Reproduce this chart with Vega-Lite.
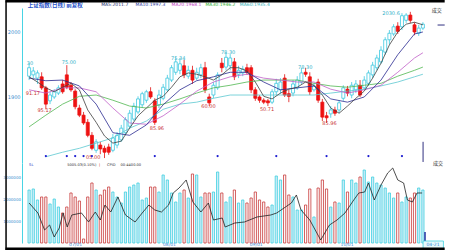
{
"$schema": "https://vega.github.io/schema/vega-lite/v6.json",
"width": 428, "height": 250, "autosize": "none",
"padding": {"left": 22, "top": 0, "right": 0, "bottom": 0},
"background": "white",
"config": {"view": {"stroke": null}, "text": {"font": "DejaVu Sans"}},
"datasets": {
"k": [
{"i":0,"d":"up","o":1932,"c":1945,"h":1952,"l":1926,"v":2409000},
{"i":1,"d":"up","o":1934,"c":1940,"h":1946,"l":1929,"v":2455000},
{"i":2,"d":"up","o":1929,"c":1937,"h":1941,"l":1920,"v":1955000},
{"i":3,"d":"dn","o":1931,"c":1914,"h":1938,"l":1911,"v":2091000},
{"i":4,"d":"dn","o":1914,"c":1889,"h":1917,"l":1881,"v":2091000},
{"i":5,"d":"up","o":1894,"c":1903,"h":1908,"l":1889,"v":1773000},
{"i":6,"d":"up","o":1900,"c":1908,"h":1912,"l":1897,"v":2000000},
{"i":7,"d":"up","o":1906,"c":1914,"h":1918,"l":1903,"v":1636000},
{"i":8,"d":"dn","o":1920,"c":1908,"h":1926,"l":1905,"v":1364000},
{"i":9,"d":"dn","o":1934,"c":1915,"h":1949,"l":1912,"v":1636000},
{"i":10,"d":"dn","o":1918,"c":1911,"h":1923,"l":1908,"v":2273000},
{"i":11,"d":"dn","o":1909,"c":1885,"h":1912,"l":1881,"v":2091000},
{"i":12,"d":"dn","o":1883,"c":1872,"h":1888,"l":1869,"v":1909000},
{"i":13,"d":"dn","o":1872,"c":1860,"h":1877,"l":1857,"v":182000},
{"i":14,"d":"dn","o":1861,"c":1841,"h":1866,"l":1838,"v":2091000},
{"i":15,"d":"dn","o":1841,"c":1821,"h":1846,"l":1818,"v":2727000},
{"i":16,"d":"up","o":1818,"c":1831,"h":1835,"l":1814,"v":2409000},
{"i":17,"d":"dn","o":1826,"c":1820,"h":1831,"l":1812,"v":2182000},
{"i":18,"d":"dn","o":1821,"c":1815,"h":1825,"l":1806,"v":2409000},
{"i":19,"d":"dn","o":1823,"c":1815,"h":1828,"l":1811,"v":2545000},
{"i":20,"d":"up","o":1818,"c":1837,"h":1843,"l":1815,"v":2318000},
{"i":21,"d":"up","o":1826,"c":1841,"h":1846,"l":1821,"v":2091000},
{"i":22,"d":"up","o":1834,"c":1852,"h":1857,"l":1831,"v":1818000},
{"i":23,"d":"up","o":1845,"c":1865,"h":1869,"l":1841,"v":2318000},
{"i":24,"d":"up","o":1855,"c":1875,"h":1880,"l":1852,"v":2545000},
{"i":25,"d":"up","o":1866,"c":1886,"h":1891,"l":1863,"v":2636000},
{"i":26,"d":"up","o":1877,"c":1897,"h":1901,"l":1874,"v":2727000},
{"i":27,"d":"up","o":1888,"c":1905,"h":1908,"l":1883,"v":1955000},
{"i":28,"d":"up","o":1895,"c":1908,"h":1911,"l":1891,"v":2045000},
{"i":29,"d":"dn","o":1908,"c":1900,"h":1915,"l":1897,"v":2545000},
{"i":30,"d":"dn","o":1894,"c":1861,"h":1898,"l":1857,"v":2545000},
{"i":31,"d":"up","o":1888,"c":1903,"h":1911,"l":1883,"v":2318000},
{"i":32,"d":"up","o":1898,"c":1915,"h":1920,"l":1895,"v":3091000},
{"i":33,"d":"up","o":1911,"c":1929,"h":1934,"l":1908,"v":2864000},
{"i":34,"d":"up","o":1926,"c":1945,"h":1949,"l":1923,"v":2273000},
{"i":35,"d":"up","o":1938,"c":1954,"h":1960,"l":1934,"v":1864000},
{"i":36,"d":"up","o":1941,"c":1951,"h":1960,"l":1935,"v":2273000},
{"i":37,"d":"dn","o":1948,"c":1934,"h":1957,"l":1929,"v":2409000},
{"i":38,"d":"up","o":1932,"c":1941,"h":1948,"l":1928,"v":2045000},
{"i":39,"d":"dn","o":1941,"c":1926,"h":1948,"l":1920,"v":3136000},
{"i":40,"d":"up","o":1929,"c":1938,"h":1945,"l":1926,"v":3091000},
{"i":41,"d":"up","o":1934,"c":1945,"h":1951,"l":1929,"v":2091000},
{"i":42,"d":"dn","o":1945,"c":1911,"h":1954,"l":1906,"v":2273000},
{"i":43,"d":"dn","o":1900,"c":1891,"h":1905,"l":1886,"v":2273000},
{"i":44,"d":"up","o":1903,"c":1918,"h":1923,"l":1898,"v":2318000},
{"i":45,"d":"up","o":1914,"c":1934,"h":1938,"l":1911,"v":3227000},
{"i":46,"d":"dn","o":1952,"c":1945,"h":1960,"l":1938,"v":2273000},
{"i":47,"d":"up","o":1946,"c":1961,"h":1969,"l":1941,"v":1864000},
{"i":48,"d":"up","o":1948,"c":1960,"h":1966,"l":1941,"v":2091000},
{"i":49,"d":"dn","o":1954,"c":1931,"h":1960,"l":1926,"v":2409000},
{"i":50,"d":"up","o":1935,"c":1941,"h":1948,"l":1929,"v":1818000},
{"i":51,"d":"up","o":1937,"c":1943,"h":1948,"l":1932,"v":1955000},
{"i":52,"d":"dn","o":1945,"c":1938,"h":1951,"l":1934,"v":1818000},
{"i":53,"d":"dn","o":1945,"c":1911,"h":1949,"l":1906,"v":2045000},
{"i":54,"d":"dn","o":1911,"c":1898,"h":1915,"l":1894,"v":2318000},
{"i":55,"d":"dn","o":1900,"c":1895,"h":1903,"l":1891,"v":1955000},
{"i":56,"d":"dn","o":1895,"c":1892,"h":1898,"l":1889,"v":1864000},
{"i":57,"d":"dn","o":1894,"c":1891,"h":1897,"l":1886,"v":1636000},
{"i":58,"d":"up","o":1892,"c":1908,"h":1912,"l":1889,"v":1727000},
{"i":59,"d":"up","o":1908,"c":1921,"h":1928,"l":1903,"v":3045000},
{"i":60,"d":"up","o":1911,"c":1923,"h":1929,"l":1905,"v":2864000},
{"i":61,"d":"dn","o":1929,"c":1903,"h":1935,"l":1900,"v":3091000},
{"i":62,"d":"dn","o":1905,"c":1901,"h":1911,"l":1892,"v":2182000},
{"i":63,"d":"up","o":1906,"c":1920,"h":1926,"l":1901,"v":2091000},
{"i":64,"d":"up","o":1914,"c":1926,"h":1932,"l":1911,"v":1500000},
{"i":65,"d":"up","o":1923,"c":1937,"h":1945,"l":1920,"v":1500000},
{"i":66,"d":"dn","o":1938,"c":1935,"h":1945,"l":1931,"v":1727000},
{"i":67,"d":"dn","o":1931,"c":1908,"h":1938,"l":1903,"v":2455000},
{"i":68,"d":"up","o":1911,"c":1917,"h":1921,"l":1908,"v":1182000},
{"i":69,"d":"dn","o":1923,"c":1895,"h":1928,"l":1891,"v":2500000},
{"i":70,"d":"dn","o":1892,"c":1869,"h":1897,"l":1863,"v":2864000},
{"i":71,"d":"dn","o":1871,"c":1868,"h":1877,"l":1860,"v":2455000},
{"i":72,"d":"up","o":1874,"c":1880,"h":1886,"l":1868,"v":1636000},
{"i":73,"d":"dn","o":1880,"c":1875,"h":1885,"l":1871,"v":1864000},
{"i":74,"d":"up","o":1880,"c":1891,"h":1895,"l":1875,"v":1818000},
{"i":75,"d":"up","o":1898,"c":1914,"h":1918,"l":1894,"v":2864000},
{"i":76,"d":"dn","o":1912,"c":1906,"h":1917,"l":1901,"v":2318000},
{"i":77,"d":"up","o":1903,"c":1918,"h":1923,"l":1898,"v":2864000},
{"i":78,"d":"up","o":1911,"c":1920,"h":1926,"l":1906,"v":2727000},
{"i":79,"d":"dn","o":1918,"c":1903,"h":1926,"l":1900,"v":3000000},
{"i":80,"d":"up","o":1914,"c":1926,"h":1932,"l":1911,"v":3318000},
{"i":81,"d":"up","o":1921,"c":1937,"h":1941,"l":1917,"v":2773000},
{"i":82,"d":"up","o":1934,"c":1949,"h":1954,"l":1929,"v":3000000},
{"i":83,"d":"up","o":1945,"c":1960,"h":1965,"l":1941,"v":2727000},
{"i":84,"d":"up","o":1954,"c":1972,"h":1978,"l":1951,"v":2636000},
{"i":85,"d":"up","o":1969,"c":1988,"h":1992,"l":1965,"v":2500000},
{"i":86,"d":"up","o":1988,"c":1998,"h":2003,"l":1981,"v":2273000},
{"i":87,"d":"up","o":1997,"c":2008,"h":2012,"l":1994,"v":2045000},
{"i":88,"d":"dn","o":2009,"c":2001,"h":2015,"l":1997,"v":2273000},
{"i":89,"d":"up","o":2008,"c":2025,"h":2029,"l":2003,"v":1864000},
{"i":90,"d":"up","o":2018,"c":2026,"h":2029,"l":2014,"v":2091000},
{"i":91,"d":"dn","o":2026,"c":2018,"h":2031,"l":2014,"v":2045000},
{"i":92,"d":"dn","o":2011,"c":2000,"h":2015,"l":1995,"v":2273000},
{"i":93,"d":"up","o":1998,"c":2006,"h":2011,"l":1994,"v":2500000},
{"i":94,"d":"up","o":2006,"c":2012,"h":2015,"l":2003,"v":2409000}
],
"ma": [
{"i":0,"m10":1929,"m20":1911,"m30":1854},
{"i":4,"m10":1925,"m20":1906,"m30":1872,"m60":1808},
{"i":8,"m10":1926,"m20":1914,"m30":1889,"m60":1815},
{"i":12,"m10":1917,"m20":1914,"m30":1901,"m60":1821},
{"i":16,"m10":1889,"m20":1908,"m30":1903,"m60":1829},
{"i":20,"m10":1845,"m20":1883,"m30":1895,"m60":1837},
{"i":24,"m10":1841,"m20":1860,"m30":1886,"m60":1852},
{"i":28,"m10":1857,"m20":1858,"m30":1883,"m60":1863},
{"i":32,"m10":1888,"m20":1871,"m30":1889,"m60":1881},
{"i":36,"m10":1911,"m20":1889,"m30":1897,"m60":1889},
{"i":40,"m10":1925,"m20":1909,"m30":1906,"m60":1892},
{"i":44,"m10":1931,"m20":1923,"m30":1914,"m60":1898},
{"i":48,"m10":1938,"m20":1931,"m30":1918,"m60":1903},
{"i":52,"m10":1938,"m20":1935,"m30":1923,"m60":1903},
{"i":56,"m10":1923,"m20":1929,"m30":1926,"m60":1903},
{"i":60,"m10":1911,"m20":1926,"m30":1926,"m60":1903},
{"i":64,"m10":1914,"m20":1923,"m30":1926,"m60":1903},
{"i":68,"m10":1917,"m20":1923,"m30":1921,"m60":1903},
{"i":72,"m10":1897,"m20":1912,"m30":1917,"m60":1906},
{"i":76,"m10":1892,"m20":1906,"m30":1915,"m60":1909},
{"i":80,"m10":1900,"m20":1911,"m30":1918,"m60":1912},
{"i":84,"m10":1926,"m20":1918,"m30":1921,"m60":1917},
{"i":88,"m10":1965,"m20":1938,"m30":1932,"m60":1923},
{"i":92,"m10":1997,"m20":1960,"m30":1941,"m60":1931},
{"i":94,"m10":2000,"m20":1968,"m30":1946,"m60":1935}
],
"ma5": [
{"i":0,"m5":1931},{"i":2,"m5":1923},{"i":4,"m5":1914},{"i":6,"m5":1908},{"i":8,"m5":1915},
{"i":10,"m5":1921},{"i":12,"m5":1911},{"i":14,"m5":1880},{"i":16,"m5":1861},{"i":18,"m5":1840},
{"i":20,"m5":1829},{"i":22,"m5":1832},{"i":24,"m5":1852},{"i":26,"m5":1871},{"i":28,"m5":1883},
{"i":30,"m5":1895},{"i":32,"m5":1901},{"i":34,"m5":1915},{"i":36,"m5":1931},{"i":38,"m5":1937},
{"i":40,"m5":1935},{"i":42,"m5":1931},{"i":44,"m5":1926},{"i":46,"m5":1934},{"i":48,"m5":1945},
{"i":50,"m5":1945},{"i":52,"m5":1940},{"i":54,"m5":1923},{"i":56,"m5":1901},{"i":58,"m5":1897},
{"i":60,"m5":1906},{"i":62,"m5":1912},{"i":64,"m5":1915},{"i":66,"m5":1923},{"i":68,"m5":1918},
{"i":70,"m5":1903},{"i":72,"m5":1883},{"i":74,"m5":1875},{"i":76,"m5":1886},{"i":78,"m5":1898},
{"i":80,"m5":1909},{"i":82,"m5":1929},{"i":84,"m5":1952},{"i":86,"m5":1980},{"i":88,"m5":2000},
{"i":90,"m5":2012},{"i":92,"m5":2015},{"i":94,"m5":2011}
],
"vma": [
{"i":0,"v":1818000},{"i":2.1,"v":1364000},{"i":3.7,"v":591000},{"i":4.9,"v":818000},{"i":6,"v":273000},
{"i":7.2,"v":682000},{"i":8.1,"v":1364000},{"i":9.1,"v":727000},{"i":10.2,"v":1273000},{"i":12.5,"v":1364000},
{"i":14.2,"v":955000},{"i":15.8,"v":1409000},{"i":17,"v":1045000},{"i":18.1,"v":1727000},{"i":19.5,"v":1409000},
{"i":21.2,"v":2091000},{"i":23,"v":1273000},{"i":25.3,"v":955000},{"i":27,"v":1364000},{"i":28.6,"v":1727000},
{"i":30,"v":1500000},{"i":31.6,"v":1409000},{"i":33.3,"v":1727000},{"i":34.4,"v":2273000},{"i":35.8,"v":2500000},
{"i":37.5,"v":2864000},{"i":39.1,"v":1864000},{"i":41,"v":1409000},{"i":42.8,"v":1818000},{"i":44,"v":1045000},
{"i":46.1,"v":1136000},{"i":46.8,"v":727000},{"i":49.1,"v":909000},{"i":51.4,"v":955000},{"i":54.4,"v":1182000},
{"i":57.7,"v":1273000},{"i":59.1,"v":1364000},{"i":61.2,"v":1636000},{"i":62.6,"v":1818000},{"i":63.8,"v":2182000},
{"i":64.9,"v":1500000},{"i":67,"v":1045000},{"i":69.6,"v":136000},{"i":71.7,"v":818000},{"i":73.5,"v":1045000},
{"i":75.4,"v":1364000},{"i":77.5,"v":1955000},{"i":78.7,"v":2273000},{"i":80.1,"v":2318000},{"i":81,"v":2727000},
{"i":82.4,"v":1955000},{"i":84,"v":2636000},{"i":85.6,"v":3182000},{"i":86.8,"v":3409000},{"i":88,"v":2864000},
{"i":89.4,"v":2727000},{"i":90.3,"v":1955000},{"i":91.5,"v":1864000},{"i":92.6,"v":2273000},{"i":93.8,"v":2273000}
],
"hl": [
{"i":0.2,"p":1952.3,"t":"30","k":"hi"},
{"i":9.5,"p":1953.8,"t":"75.00","k":"hi"},
{"i":0.9,"p":1906,"t":"91.17","k":"lo"},
{"i":3.7,"p":1880,"t":"95.17","k":"lo"},
{"i":15.3,"p":1807.7,"t":"05.00","k":"lo"},
{"i":30.5,"p":1852.3,"t":"85.96","k":"lo"},
{"i":35.6,"p":1960,"t":"75.34","k":"hi"},
{"i":42.8,"p":1886,"t":"60.00","k":"lo"},
{"i":47.5,"p":1969.2,"t":"78.30","k":"hi"},
{"i":56.8,"p":1881.5,"t":"50.71","k":"lo"},
{"i":65.9,"p":1946,"t":"78.30","k":"hi"},
{"i":71.7,"p":1860,"t":"85.96","k":"lo"},
{"i":86.4,"p":2029.2,"t":"2030.6","k":"hi"}
],
"dots": [
{"i":4,"p":1809},{"i":9,"p":1809},{"i":11,"p":1809},{"i":13,"p":1809},{"i":15,"p":1809},
{"i":30,"p":1809},{"i":45,"p":1809},{"i":59,"p":1809},{"i":71,"p":1809},{"i":81,"p":1809},{"i":89,"p":1809}
],
"top": [
{"i":17.2,"p":2041.5,"t":"MA5:2011.7","k":"MA5"},
{"i":25.4,"p":2041.5,"t":"MA10:1997.3","k":"MA10"},
{"i":34,"p":2041.5,"t":"MA20:1968.1","k":"MA20"},
{"i":42.1,"p":2041.5,"t":"MA30:1946.2","k":"MA30"},
{"i":50.3,"p":2041.5,"t":"MA60:1935.4","k":"MA60"}
],
"info": [
{"i":0,"v":3545000,"t":"SL","k":"sl"},
{"i":9.1,"v":3545000,"t":"5005.03(0.10%)","k":"info"},
{"i":16.7,"v":3545000,"t":"|","k":"bar"},
{"i":18.6,"v":3545000,"t":"CPID","k":"info"},
{"i":21.8,"v":3545000,"t":"00-4400.00","k":"info"}
],
"months": [
{"i":11.1,"v":-70000,"t":"07/01"},
{"i":33.5,"v":-70000,"t":"08/01"},
{"i":54.2,"v":-70000,"t":"09/01"},
{"i":75.9,"v":-70000,"t":"10/01"},
{"i":96.4,"v":-70000,"t":"04-21"}
]
},
"encoding": {"x": {"field": "i", "type": "quantitative", "scale": {"domain": [-0.5, 94.5], "range": [0, 408], "nice": false, "zero": false}, "axis": null}},
"layer": [
{"data": {"values": [{"p":1900},{"p":2000}]},
 "mark": {"type": "rule", "strokeDash": [1, 1.5], "color": "#9fb0c0", "strokeWidth": 0.7},
 "encoding": {"x": {"datum": -0.5}, "x2": {"datum": 95},
  "y": {"field": "p", "type": "quantitative", "scale": {"domain": [1798.4, 2036.9], "range": [163, 8], "nice": false, "zero": false}, "axis": null}}},
{"data": {"values": [{"v":1000000},{"v":2000000},{"v":3000000}]},
 "mark": {"type": "rule", "strokeDash": [1, 1.5], "color": "#8fd0e0", "strokeWidth": 0.7},
 "encoding": {"x": {"datum": -0.5}, "x2": {"datum": 95},
  "y": {"field": "v", "type": "quantitative", "scale": {"domain": [0, 3636364], "range": [243, 163], "nice": false, "zero": false}, "axis": null}}},
{"data": {"values": [{"p":1798.6}]},
 "mark": {"type": "rule", "color": "#8899aa", "strokeWidth": 0.8},
 "encoding": {"x": {"datum": -0.5}, "x2": {"datum": 94.5},
  "y": {"field": "p", "type": "quantitative", "scale": {"domain": [1798.4, 2036.9], "range": [163, 8], "nice": false, "zero": false}, "axis": null}}},
{"data": {"name": "k"},
 "mark": {"type": "rule", "strokeWidth": 0.8},
 "encoding": {
  "y": {"field": "l", "type": "quantitative", "scale": {"domain": [1798.4, 2036.9], "range": [163, 8], "nice": false, "zero": false},
        "axis": {"values": [1900, 2000], "format": "d", "ticks": false, "grid": false, "title": null, "labelFontSize": 5, "labelColor": "#3a8fd0", "labelFont": "DejaVu Sans", "domainColor": "#48d4e4", "domainWidth": 1, "labelPadding": 2}},
  "y2": {"field": "h"},
  "color": {"condition": {"test": "datum.d === 'up'", "value": "#3cc8e0"}, "value": "#e01010"}}},
{"data": {"name": "k"},
 "mark": {"type": "bar", "size": 3, "strokeWidth": 0.8},
 "encoding": {
  "y": {"field": "o", "type": "quantitative", "scale": {"domain": [1798.4, 2036.9], "range": [163, 8], "nice": false, "zero": false}, "axis": null},
  "y2": {"field": "c"},
  "fill": {"condition": {"test": "datum.d === 'up'", "value": "#ffffff"}, "value": "#ee1111"},
  "stroke": {"condition": {"test": "datum.d === 'up'", "value": "#3cc8e0"}, "value": "#ee1111"}}},
{"data": {"name": "ma"},
 "mark": {"type": "line", "color": "#5cc8d0", "strokeWidth": 0.8},
 "encoding": {"y": {"field": "m60", "type": "quantitative", "scale": {"domain": [1798.4, 2036.9], "range": [163, 8], "nice": false, "zero": false}, "axis": null}}},
{"data": {"name": "ma"},
 "mark": {"type": "line", "color": "#50b850", "strokeWidth": 0.8},
 "encoding": {"y": {"field": "m30", "type": "quantitative", "scale": {"domain": [1798.4, 2036.9], "range": [163, 8], "nice": false, "zero": false}, "axis": null}}},
{"data": {"name": "ma"},
 "mark": {"type": "line", "color": "#c060c8", "strokeWidth": 0.8},
 "encoding": {"y": {"field": "m20", "type": "quantitative", "scale": {"domain": [1798.4, 2036.9], "range": [163, 8], "nice": false, "zero": false}, "axis": null}}},
{"data": {"name": "ma"},
 "mark": {"type": "line", "color": "#2a2a90", "strokeWidth": 0.8},
 "encoding": {"y": {"field": "m10", "type": "quantitative", "scale": {"domain": [1798.4, 2036.9], "range": [163, 8], "nice": false, "zero": false}, "axis": null}}},
{"data": {"name": "ma5"},
 "mark": {"type": "line", "color": "#404040", "strokeWidth": 0.8},
 "encoding": {"y": {"field": "m5", "type": "quantitative", "scale": {"domain": [1798.4, 2036.9], "range": [163, 8], "nice": false, "zero": false}, "axis": null}}},
{"data": {"name": "hl"},
 "mark": {"type": "text", "fontSize": 5, "align": "center", "baseline": "middle"},
 "encoding": {"y": {"field": "p", "type": "quantitative", "scale": {"domain": [1798.4, 2036.9], "range": [163, 8], "nice": false, "zero": false}, "axis": null},
  "text": {"field": "t"},
  "color": {"condition": {"test": "datum.k === 'hi'", "value": "#30b0c8"}, "value": "#c83030"}}},
{"data": {"name": "dots"},
 "mark": {"type": "circle", "size": 5, "color": "#1a1ad0", "opacity": 1},
 "encoding": {"y": {"field": "p", "type": "quantitative", "scale": {"domain": [1798.4, 2036.9], "range": [163, 8], "nice": false, "zero": false}, "axis": null}}},
{"data": {"values": [{"i": 94.04, "p": 1831, "p2": 1800}]},
 "mark": {"type": "rule", "color": "#303080", "strokeWidth": 1},
 "encoding": {"y": {"field": "p", "type": "quantitative", "scale": {"domain": [1798.4, 2036.9], "range": [163, 8], "nice": false, "zero": false}, "axis": null}, "y2": {"field": "p2"}}},
{"data": {"values": [{"i": 97.5, "i2": 99.2, "p": 2010.7}]},
 "mark": {"type": "rule", "color": "#303080", "strokeWidth": 1},
 "encoding": {"x2": {"field": "i2"}, "y": {"field": "p", "type": "quantitative", "scale": {"domain": [1798.4, 2036.9], "range": [163, 8], "nice": false, "zero": false}, "axis": null}}},
{"data": {"name": "k"},
 "mark": {"type": "bar", "size": 2.2, "strokeWidth": 0.8},
 "encoding": {
  "y": {"field": "v", "type": "quantitative", "scale": {"domain": [0, 3636364], "range": [243, 163], "nice": false, "zero": false},
        "axis": {"orient": "left", "values": [1000000, 2000000, 3000000], "format": "d", "ticks": false, "grid": false, "title": null, "labelFontSize": 4, "labelColor": "#3a8fd0", "labelFont": "DejaVu Sans", "domainColor": "#48d4e4", "domainWidth": 1, "labelPadding": 1.5}},
  "fill": {"condition": {"test": "datum.d === 'up'", "value": "#d2edf9"}, "value": "#ffffff"},
  "stroke": {"condition": {"test": "datum.d === 'up'", "value": "#3cd0e0"}, "value": "#c83838"}}},
{"data": {"values": [{"i": 94.5, "v": 0, "v2": 500000}]},
 "mark": {"type": "rule", "color": "#2030a0", "strokeWidth": 1.5},
 "encoding": {"y": {"field": "v", "type": "quantitative", "scale": {"domain": [0, 3636364], "range": [243, 163], "nice": false, "zero": false}, "axis": null}, "y2": {"field": "v2"}}},
{"data": {"name": "vma"},
 "mark": {"type": "line", "color": "#222222", "strokeWidth": 0.8},
 "encoding": {"y": {"field": "v", "type": "quantitative", "scale": {"domain": [0, 3636364], "range": [243, 163], "nice": false, "zero": false}, "axis": null}}},
{"data": {"values": [{"i": -0.3, "p": 2041.5, "t": "上证指数(日线) 前复权"}]},
 "mark": {"type": "text", "fontSize": 5.5, "align": "left", "baseline": "middle", "font": "Noto Sans CJK SC", "color": "#1e4fc8", "fontWeight": "bold"},
 "encoding": {"y": {"field": "p", "type": "quantitative", "scale": {"domain": [1798.4, 2036.9], "range": [163, 8], "nice": false, "zero": false}, "axis": null}, "text": {"field": "t"}}},
{"data": {"name": "top"},
 "mark": {"type": "text", "fontSize": 4.5, "align": "left", "baseline": "middle"},
 "encoding": {"y": {"field": "p", "type": "quantitative", "scale": {"domain": [1798.4, 2036.9], "range": [163, 8], "nice": false, "zero": false}, "axis": null},
  "text": {"field": "t"},
  "color": {"field": "k", "type": "nominal", "scale": {"domain": ["MA5", "MA10", "MA20", "MA30", "MA60"], "range": ["#203070", "#2a3aa0", "#c040c0", "#30b030", "#30b0b8"]}, "legend": null}}},
{"data": {"name": "info"},
 "mark": {"type": "text", "fontSize": 3.6, "align": "left", "baseline": "middle"},
 "encoding": {"y": {"field": "v", "type": "quantitative", "scale": {"domain": [0, 3636364], "range": [243, 163], "nice": false, "zero": false}, "axis": null},
  "text": {"field": "t"},
  "color": {"field": "k", "type": "nominal", "scale": {"domain": ["sl", "info", "bar"], "range": ["#2030c0", "#303030", "#d02020"]}, "legend": null}}},
{"data": {"values": [{"i": 94.04, "i2": 98.9, "v": 90909, "v2": -318182}]},
 "mark": {"type": "rect", "fill": "#e6fafc", "stroke": "#40d0e0", "strokeWidth": 0.8},
 "encoding": {"x2": {"field": "i2"}, "y": {"field": "v", "type": "quantitative", "scale": {"domain": [0, 3636364], "range": [243, 163], "nice": false, "zero": false}, "axis": null}, "y2": {"field": "v2"}}},
{"data": {"name": "months"},
 "mark": {"type": "text", "fontSize": 4.5, "align": "center", "baseline": "middle", "color": "#3a8ad8"},
 "encoding": {"y": {"field": "v", "type": "quantitative", "scale": {"domain": [0, 3636364], "range": [243, 163], "nice": false, "zero": false}, "axis": null}, "text": {"field": "t"}}},
{"data": {"values": [{"i": 97.3, "p": 2033.8, "t": "成交"}, {"i": 97.6, "p": 1798.5, "t": "成交"}]},
 "mark": {"type": "text", "fontSize": 5, "align": "center", "baseline": "middle", "font": "Noto Sans CJK SC", "color": "#303030"},
 "encoding": {"y": {"field": "p", "type": "quantitative", "scale": {"domain": [1798.4, 2036.9], "range": [163, 8], "nice": false, "zero": false}, "axis": null}, "text": {"field": "t"}}},
{"data": {"values": [{"i": -5.62, "i2": 99.2, "p": 2047.4}]},
 "mark": {"type": "rule", "color": "#000000", "strokeWidth": 2.5},
 "encoding": {"x2": {"field": "i2"}, "y": {"field": "p", "type": "quantitative", "scale": {"domain": [1798.4, 2036.9], "range": [163, 8], "nice": false, "zero": false}, "axis": null}}},
{"data": {"values": [{"i": -5.5, "p": 2049, "p2": 1664}]},
 "mark": {"type": "rule", "color": "#000000", "strokeWidth": 1.5},
 "encoding": {"y": {"field": "p", "type": "quantitative", "scale": {"domain": [1798.4, 2036.9], "range": [163, 8], "nice": false, "zero": false}, "axis": null}, "y2": {"field": "p2"}}},
{"data": {"values": [{"i": -5.62, "i2": 99.2, "v": -263636}]},
 "mark": {"type": "rule", "color": "#000000", "strokeWidth": 2.5},
 "encoding": {"x2": {"field": "i2"}, "y": {"field": "v", "type": "quantitative", "scale": {"domain": [0, 3636364], "range": [243, 163], "nice": false, "zero": false}, "axis": null}}}
],
"resolve": {"scale": {"y": "independent", "color": "independent", "fill": "independent", "stroke": "independent"}}
}
